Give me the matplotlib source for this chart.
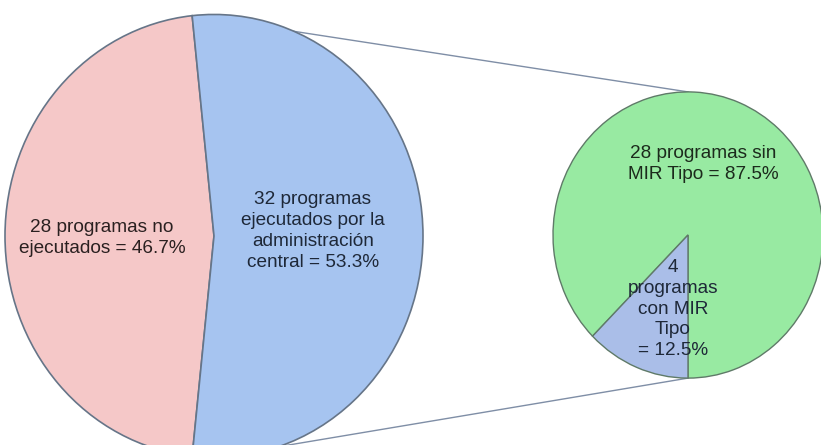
import numpy as np
import matplotlib
matplotlib.use("Agg")
import matplotlib.pyplot as plt

plt.rcParams['font.family'] = ['Liberation Sans', 'DejaVu Sans']

# --- data ---
main_labels = ["28 programas no\nejecutados = 46.7%",
               "32 programas\nejecutados por la\nadministración\ncentral = 53.3%"]
main_counts = [28, 32]
main_colors = ["#f5c8c8", "#a6c4f0"]

sub_labels = ["28 programas sin\nMIR Tipo = 87.5%",
              "4\nprogramas\ncon MIR\nTipo\n= 12.5%"]
sub_counts = [28, 4]
sub_colors = ["#98eaa2", "#aabee8"]

W, H = 821, 445
K = 1.06  # picture is slightly taller than wide

fig = plt.figure(figsize=(W / 100, H / 100), dpi=100)
ax = fig.add_axes([0, 0, 1, 1])


def yd(ypix):
    # pixel row -> data y
    return (H - ypix) / K


big_c = (214, yd(236))
big_r = 209
small_c = (688, yd(235))
small_r = 135

big_w, _ = ax.pie(main_counts, colors=main_colors, center=big_c, radius=big_r,
                  startangle=180 * main_counts[1] / sum(main_counts),
                  counterclock=True,
                  wedgeprops=dict(edgecolor="#667588", linewidth=1.2))
small_w, _ = ax.pie(sub_counts, colors=sub_colors, center=small_c, radius=small_r,
                    startangle=-90, counterclock=True,
                    wedgeprops=dict(edgecolor="#5f7a68", linewidth=1.0))

# connector lines from the split slice to the second pie
t_top = np.deg2rad(big_w[0].theta1)
t_bot = np.deg2rad(-72)
ax.plot([big_c[0] + big_r * np.cos(t_top), small_c[0]],
        [big_c[1] + big_r * np.sin(t_top), small_c[1] + small_r],
        color="#7f8ea6", lw=1.0, zorder=0)
ax.plot([big_c[0] + big_r * np.cos(t_bot), small_c[0]],
        [big_c[1] + big_r * np.sin(t_bot), small_c[1] - small_r],
        color="#7f8ea6", lw=1.0, zorder=0)

fs = 13.7
ls = 1.3
ax.text(102, yd(238), main_labels[0], ha="center", va="center",
        fontsize=fs, color="#2a2020", linespacing=ls)
ax.text(313, yd(231), main_labels[1], ha="center", va="center",
        fontsize=fs, color="#1e2838", linespacing=ls)
ax.text(703, yd(164), sub_labels[0], ha="center", va="center",
        fontsize=fs, color="#1c2a1c", linespacing=ls)
ax.text(673, yd(309), sub_labels[1], ha="center", va="center",
        fontsize=fs, color="#1e2838", linespacing=ls)

ax.set_xlim(0, W)
ax.set_ylim(0, H / K)
ax.set_aspect("auto")
ax.axis("off")

fig.savefig("out.png", dpi=100, facecolor="white")
